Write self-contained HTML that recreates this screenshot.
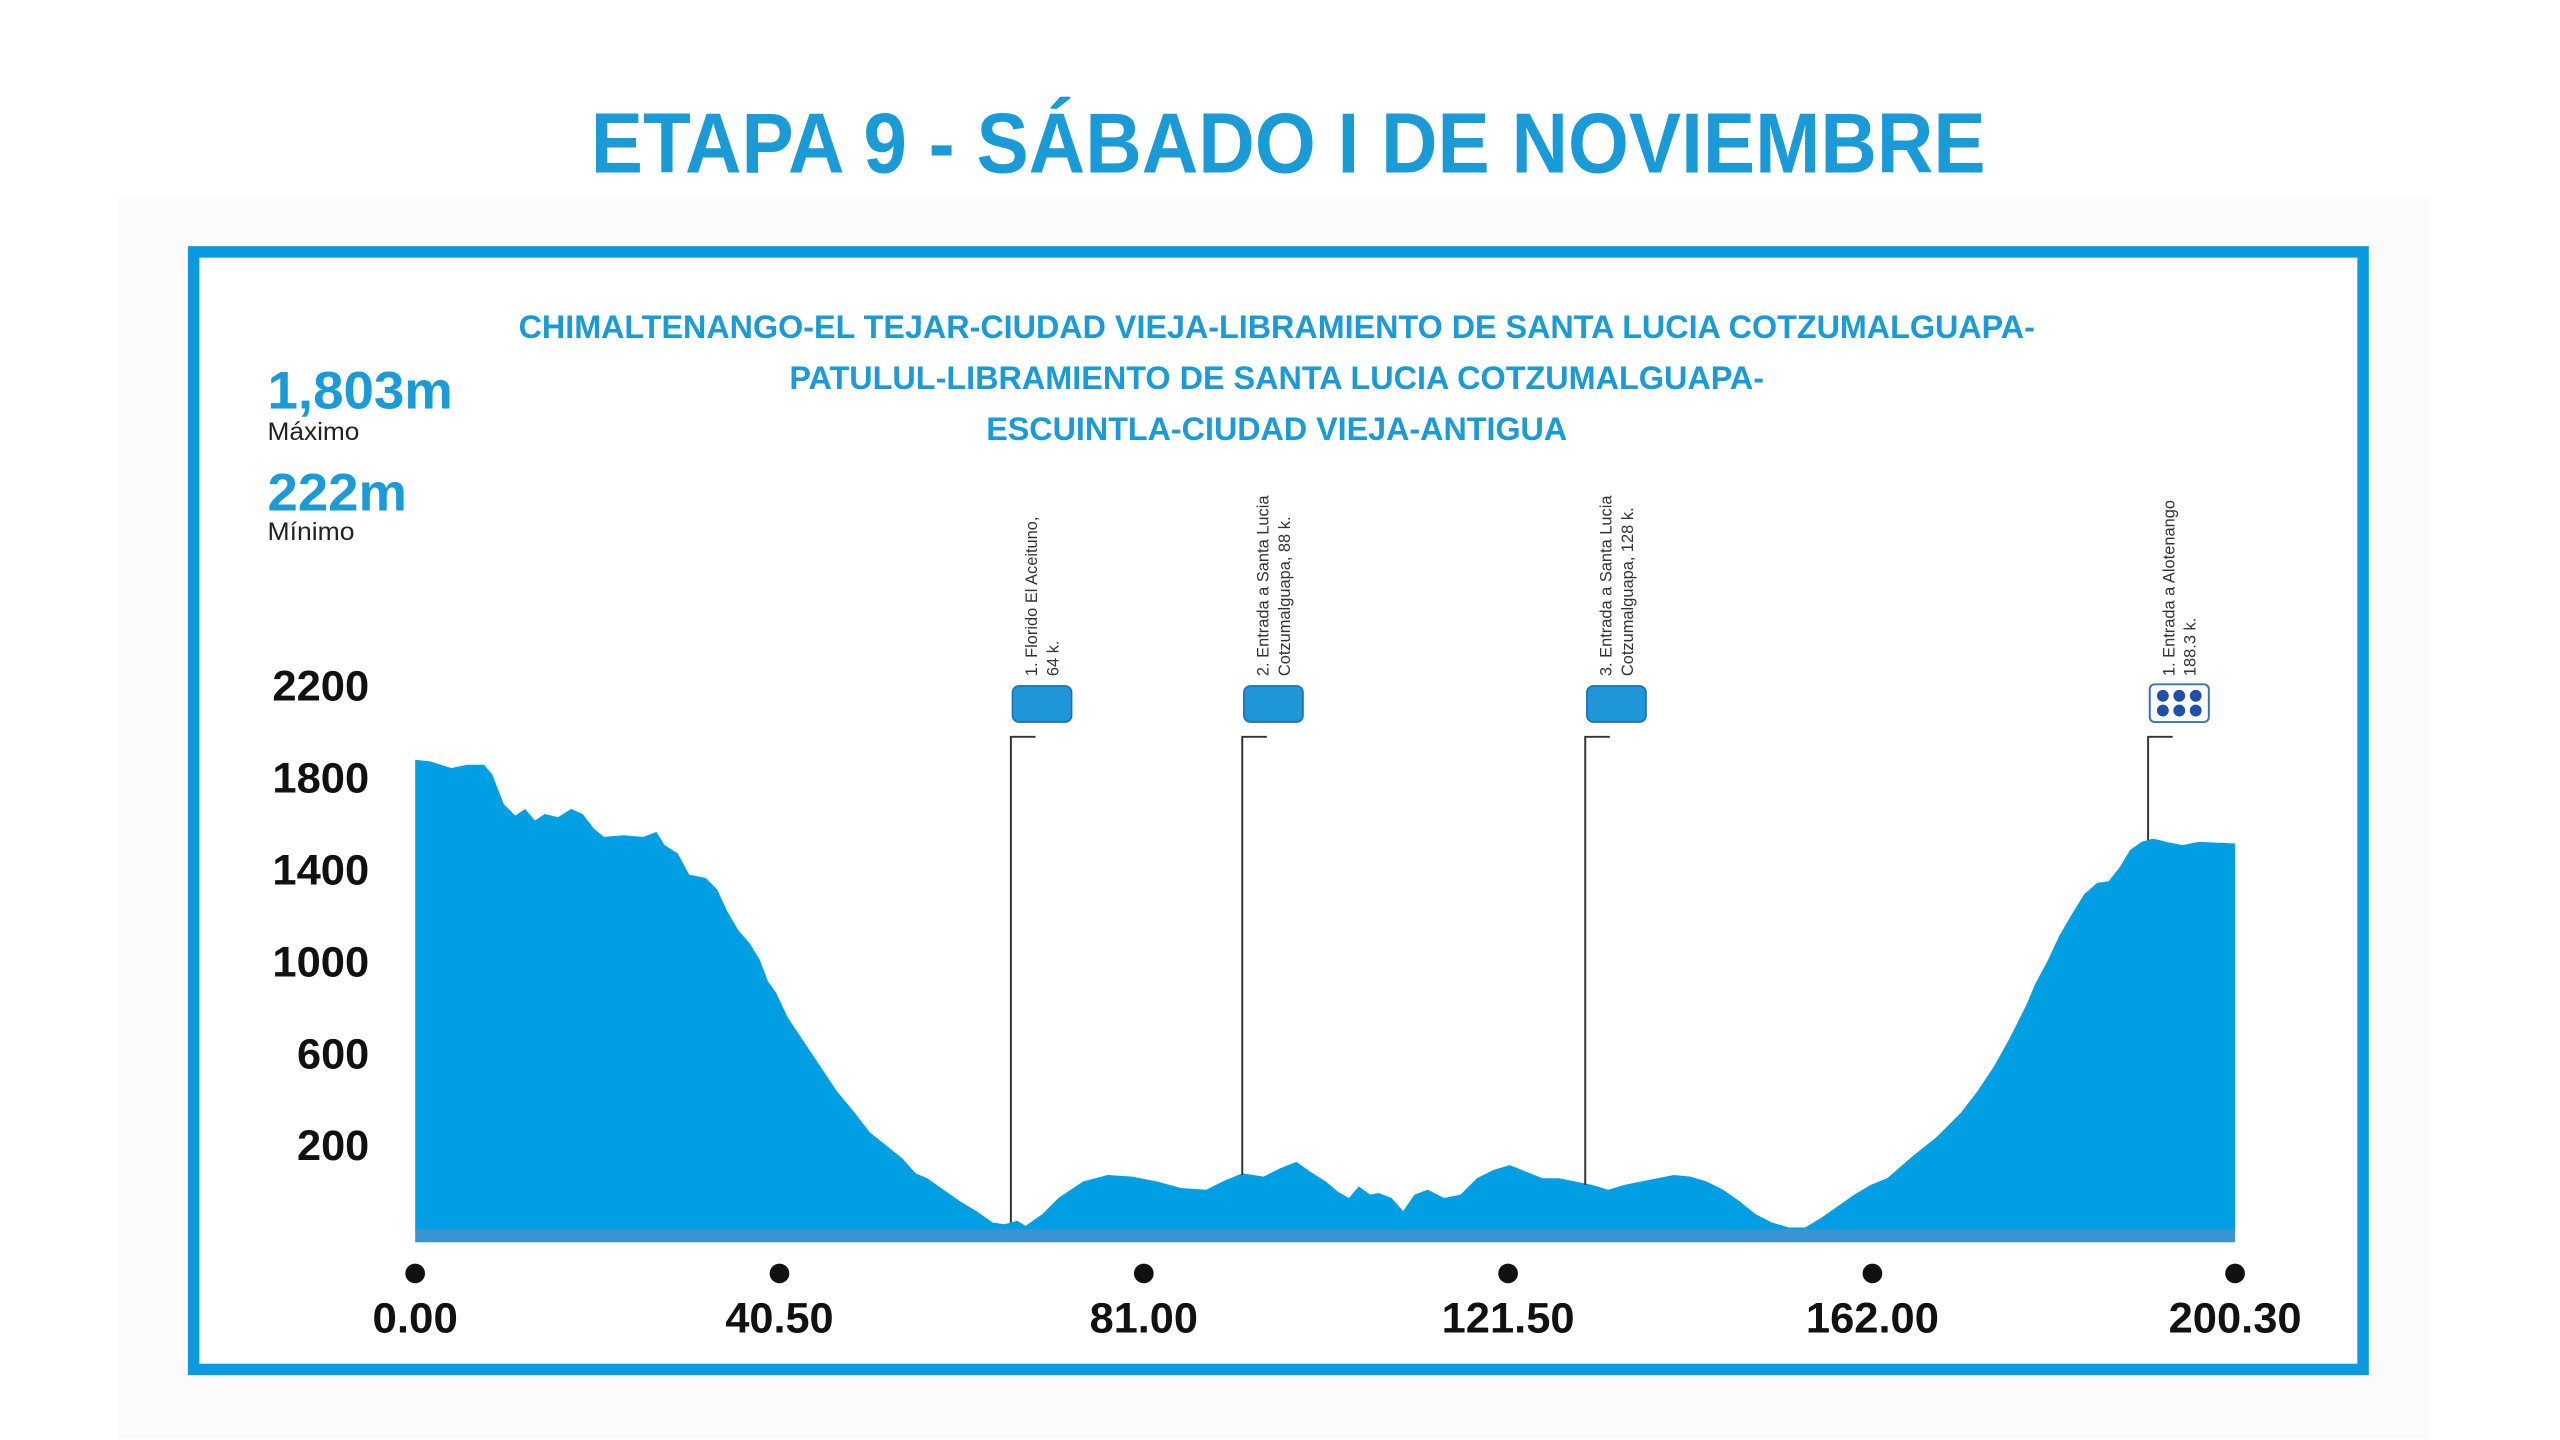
<!DOCTYPE html>
<html><head><meta charset="utf-8"><style>html,body{margin:0;padding:0;background:#fff}svg{display:block}</style></head>
<body>
<svg width="2560" height="1440" viewBox="0 0 1560 877.5" xmlns="http://www.w3.org/2000/svg" font-family="'Liberation Sans', sans-serif">
<rect x="0" y="0" width="1560" height="877.5" fill="#fff"/>
<rect x="72" y="120" width="1408" height="757" fill="#fbfbfb"/>
<text x="785" y="105" text-anchor="middle" font-size="52" font-weight="bold" fill="#1a9ad6" textLength="850" lengthAdjust="spacingAndGlyphs">ETAPA 9 - SÁBADO I DE NOVIEMBRE</text>
<rect x="118" y="153.5" width="1322" height="681" fill="#fff" stroke="#0a9ae0" stroke-width="7"/>
<g font-weight="bold" fill="#1a9ad6" font-size="20" text-anchor="middle">
<text x="778" y="206" textLength="924" lengthAdjust="spacingAndGlyphs">CHIMALTENANGO-EL TEJAR-CIUDAD VIEJA-LIBRAMIENTO DE SANTA LUCIA COTZUMALGUAPA-</text>
<text x="778" y="237" textLength="594" lengthAdjust="spacingAndGlyphs">PATULUL-LIBRAMIENTO DE SANTA LUCIA COTZUMALGUAPA-</text>
<text x="778" y="268" textLength="354" lengthAdjust="spacingAndGlyphs">ESCUINTLA-CIUDAD VIEJA-ANTIGUA</text>
</g>
<text x="163" y="249" font-size="32" font-weight="bold" fill="#1a9ad6" textLength="113" lengthAdjust="spacingAndGlyphs">1,803m</text>
<text x="163" y="268" font-size="15" fill="#222" textLength="56" lengthAdjust="spacingAndGlyphs">Máximo</text>
<text x="163" y="311" font-size="32" font-weight="bold" fill="#1a9ad6" textLength="85" lengthAdjust="spacingAndGlyphs">222m</text>
<text x="163" y="329" font-size="15" fill="#222" textLength="53" lengthAdjust="spacingAndGlyphs">Mínimo</text>
<g font-size="26" font-weight="bold" fill="#111" text-anchor="end">
<text x="225" y="427" textLength="59" lengthAdjust="spacingAndGlyphs">2200</text>
<text x="225" y="483" textLength="59" lengthAdjust="spacingAndGlyphs">1800</text>
<text x="225" y="539" textLength="59" lengthAdjust="spacingAndGlyphs">1400</text>
<text x="225" y="595" textLength="59" lengthAdjust="spacingAndGlyphs">1000</text>
<text x="225" y="651" textLength="44" lengthAdjust="spacingAndGlyphs">600</text>
<text x="225" y="707" textLength="44" lengthAdjust="spacingAndGlyphs">200</text>
</g>
<path fill="#009fe3" d="M253,463 L262,464 275,468 285,466 295,466 300,472 307,490 314,497 320,493 326,500 332,496 340,498 348,493 355,496 362,505 368,510 380,509 392,510 400,507 405,515 413,520 420,533 430,535 437,542 443,555 450,567 457,575 463,585 468,598 473,605 480,620 490,635 500,650 510,665 520,677 530,690 540,698 550,706 558,715 565,718 575,725 585,732 595,738 605,745 612,746 620,744 625,747 635,740 645,730 660,720 675,716 690,717 705,720 720,724 735,725 745,720 757,715 770,717 780,712 790,708 800,715 808,720 815,726 822,730 828,723 835,728 840,727 848,730 855,738 862,728 870,725 880,730 890,728 900,718 910,713 920,710 930,714 940,718 950,718 960,720 970,722 980,725 990,722 1000,720 1010,718 1020,716 1030,717 1040,720 1050,725 1060,732 1070,740 1080,745 1090,748 1100,748 1110,742 1120,735 1130,728 1140,722 1150,718 1165,705 1180,693 1195,678 1205,665 1215,650 1225,632 1235,612 1240,600 1248,585 1255,570 1262,558 1270,545 1278,538 1285,537 1292,528 1298,518 1305,513 1312,511 1320,513 1330,515 1340,513 1362,514 L1362,750 L253,750 Z"/>
<rect x="253" y="749" width="1109" height="8" fill="#3a93d3"/>
<g stroke="#333" stroke-width="1.2" fill="none">
<path d="M631,449 H616 V745"/>
<path d="M772,449 H757 V716"/>
<path d="M981,449 H966 V722"/>
<path d="M1324,449 H1309 V512"/>
</g>
<g fill="#1e96d8" stroke="#1a6fb5" stroke-width="1">
<rect x="617" y="418" width="36" height="22" rx="4"/>
<rect x="758" y="418" width="36" height="22" rx="4"/>
<rect x="967" y="418" width="36" height="22" rx="4"/>
</g>
<rect x="1310" y="417" width="36" height="23" rx="3" fill="#fff" stroke="#3a6fc0" stroke-width="1.2"/>
<g fill="#1f4fa8">
<circle cx="1318" cy="424" r="3.6"/><circle cx="1328" cy="424" r="3.6"/><circle cx="1338" cy="424" r="3.6"/>
<circle cx="1318" cy="433" r="3.6"/><circle cx="1328" cy="433" r="3.6"/><circle cx="1338" cy="433" r="3.6"/>
</g>
<g font-size="10" fill="#333">
<text transform="translate(632,412) rotate(-90)">1. Florido El Aceituno,</text>
<text transform="translate(645,412) rotate(-90)">64 k.</text>
<text transform="translate(773,412) rotate(-90)">2. Entrada a Santa Lucia</text>
<text transform="translate(786,412) rotate(-90)">Cotzumalguapa, 88 k.</text>
<text transform="translate(982,412) rotate(-90)">3. Entrada a Santa Lucia</text>
<text transform="translate(995,412) rotate(-90)">Cotzumalguapa, 128 k.</text>
<text transform="translate(1325,412) rotate(-90)">1. Entrada a Alotenango</text>
<text transform="translate(1338,412) rotate(-90)">188.3 k.</text>
</g>
<g fill="#111">
<circle cx="253" cy="776" r="6"/><circle cx="475" cy="776" r="6"/><circle cx="697" cy="776" r="6"/>
<circle cx="919" cy="776" r="6"/><circle cx="1141" cy="776" r="6"/><circle cx="1362" cy="776" r="6"/>
</g>
<g font-size="26" font-weight="bold" fill="#111" text-anchor="middle">
<text x="253" y="812" textLength="52" lengthAdjust="spacingAndGlyphs">0.00</text>
<text x="475" y="812" textLength="66" lengthAdjust="spacingAndGlyphs">40.50</text>
<text x="697" y="812" textLength="66" lengthAdjust="spacingAndGlyphs">81.00</text>
<text x="919" y="812" textLength="81" lengthAdjust="spacingAndGlyphs">121.50</text>
<text x="1141" y="812" textLength="81" lengthAdjust="spacingAndGlyphs">162.00</text>
<text x="1362" y="812" textLength="81" lengthAdjust="spacingAndGlyphs">200.30</text>
</g>
</svg>
</body></html>
